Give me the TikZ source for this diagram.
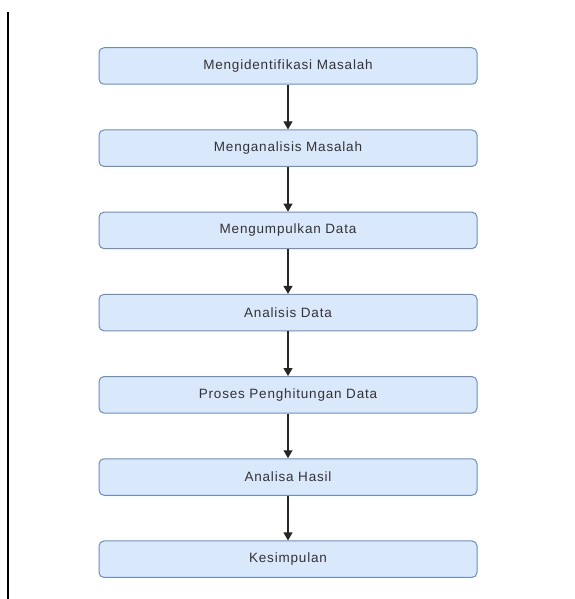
\documentclass[tikz,border=0pt]{standalone}
\usepackage{fontspec}
\setmainfont[LetterSpace=6]{Liberation Sans}
\usetikzlibrary{positioning,arrows.meta}
\definecolor{boxfill}{HTML}{DAE8FC}
\definecolor{boxline}{HTML}{6C8EBF}
\definecolor{boxtext}{HTML}{333333}

\begin{document}
\begin{tikzpicture}[node distance=44.7pt,
	stepbox/.style = {shape=rectangle, rounded corners=5pt,
		draw=boxline, fill=boxfill, line width=1pt, align=center,
		minimum width=378pt, minimum height=36.5pt,
		text=boxtext, font=\fontsize{13.5}{15}\selectfont},
	flow/.style = {-{Triangle[length=8pt,width=9pt]}, line width=1.1pt, draw=black!85}]
	\useasboundingbox (0,0) rectangle (574pt,-599pt);
	\draw[line width=1.4pt] (8pt,-12pt) -- (8pt,-599pt);
	\node[stepbox] (identifikasi) at (288pt,-66pt) {Mengidentifikasi Masalah};
	\node[stepbox, below=of identifikasi] (analisis) {Menganalisis Masalah};
	\node[stepbox, below=of analisis] (kumpul) {Mengumpulkan Data};
	\node[stepbox, below=of kumpul] (analisisdata) {Analisis Data};
	\node[stepbox, below=of analisisdata] (hitung) {Proses Penghitungan Data};
	\node[stepbox, below=of hitung] (hasil) {Analisa Hasil};
	\node[stepbox, below=of hasil] (simpulan) {Kesimpulan};
	\draw[flow] (identifikasi) -- (analisis);
	\draw[flow] (analisis) -- (kumpul);
	\draw[flow] (kumpul) -- (analisisdata);
	\draw[flow] (analisisdata) -- (hitung);
	\draw[flow] (hitung) -- (hasil);
	\draw[flow] (hasil) -- (simpulan);
\end{tikzpicture}
\end{document}
